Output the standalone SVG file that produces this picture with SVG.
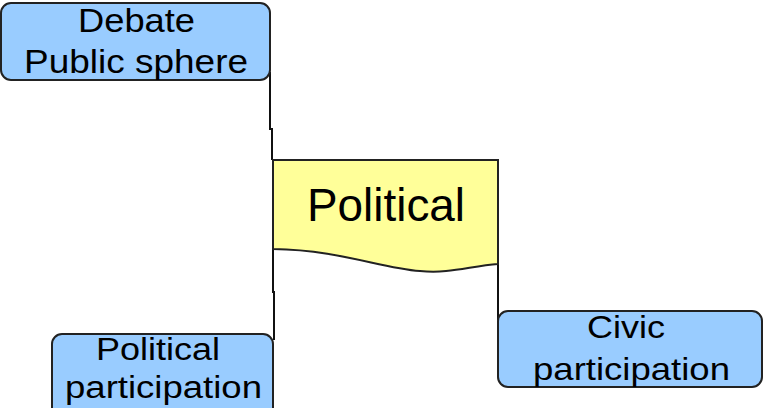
<svg xmlns="http://www.w3.org/2000/svg" width="763" height="408" viewBox="0 0 763 408">
<style>
.box{fill:#99CCFF;stroke:#222;stroke-width:2}
.doc{fill:#FFFF99;stroke:#222;stroke-width:2}
.t{font-family:"Liberation Sans",Arial,sans-serif;fill:#000;font-size:33px}
.c{fill:none;stroke:#111;stroke-width:2}
</style>
<rect width="763" height="408" fill="#fff"/>
<g id="connectors">
<polyline class="c" points="270,72 270,129 272,129 272,160"/>
<polyline class="c" points="273,249 273,292 274,292 274,340"/>
<polyline class="c" points="498,262 498,320"/>
</g>
<g id="political">
<path class="doc" d="M273,160 L498,160 L498,264 C470,266 450,274 420,271 C380,268 340,250 273,249 Z"/>
<text class="t" x="307" y="221" style="font-size:46px" textLength="158" lengthAdjust="spacingAndGlyphs">Political</text>
</g>
<g id="debate">
<rect class="box" x="1" y="3" width="269" height="77" rx="10"/>
<text class="t" x="78" y="32" textLength="117" lengthAdjust="spacingAndGlyphs">Debate</text>
<text class="t" x="24" y="73" textLength="224" lengthAdjust="spacingAndGlyphs">Public sphere</text>
</g>
<g id="political-participation">
<rect class="box" x="52" y="334" width="221" height="90" rx="10"/>
<text class="t" x="96" y="360" style="font-size:31px" textLength="124" lengthAdjust="spacingAndGlyphs">Political</text>
<text class="t" x="65" y="398" style="font-size:31px" textLength="197" lengthAdjust="spacingAndGlyphs">participation</text>
</g>
<g id="civic">
<rect class="box" x="498" y="311" width="264" height="76" rx="10"/>
<text class="t" x="587" y="338" style="font-size:32px" textLength="78" lengthAdjust="spacingAndGlyphs">Civic</text>
<text class="t" x="533" y="380" style="font-size:32px" textLength="197" lengthAdjust="spacingAndGlyphs">participation</text>
</g>
</svg>
